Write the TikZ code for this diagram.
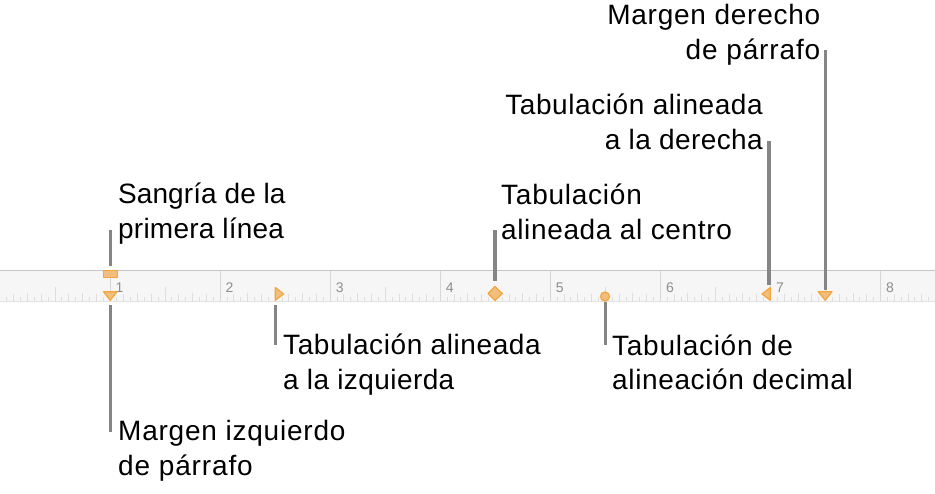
\documentclass[tikz,border=0pt]{standalone}
\usepackage{fontspec}
\setmainfont{Liberation Sans}
\newfontfamily\lblfont[LetterSpace=2.1]{Liberation Sans}
\newcommand{\lsp}[2]{{\addfontfeature{LetterSpace=#1}#2}}
\definecolor{rbg}{HTML}{F6F6F6}
\definecolor{rtop}{HTML}{C4C4C4}
\definecolor{rbot}{HTML}{E2E2E2}
\definecolor{tickc}{HTML}{DEDEDE}
\definecolor{numc}{HTML}{8E8E8E}
\definecolor{mfill}{HTML}{F2BE7E}
\definecolor{mline}{HTML}{F5A53C}
\definecolor{connc}{HTML}{858585}
\tikzset{
  x=1pt,y=-1pt,
  tick/.style={draw=tickc,line width=1pt},
  major/.style={draw=rtop!70!white,line width=1pt},
  num/.style={font=\fontsize{14}{14}\selectfont,text=numc,anchor=base,inner sep=0pt},
  mark shape/.style={fill=mfill,draw=mline,line width=1.2pt,line join=round},
  conn/.style={draw=connc,line width=3.2pt},
  lbl/.style={font=\lblfont\fontsize{28}{35}\selectfont,text=black,inner sep=0pt},
  lblL/.style={lbl,align=left,anchor=base west},
  lblR/.style={lbl,align=right,anchor=base east},
}
\begin{document}
\begin{tikzpicture}
\useasboundingbox (0,0) rectangle (935,494);
% ruler
\fill[rbg] (0,270.5) rectangle (935,301);
\foreach \i in {1,...,136}{
  \pgfmathsetmacro{\tx}{\i*110.07/16}
  \pgfmathtruncatemacro{\ma}{mod(\i,16)}
  \pgfmathtruncatemacro{\mb}{mod(\i,8)}
  \pgfmathtruncatemacro{\mc}{mod(\i,4)}
  \pgfmathtruncatemacro{\md}{mod(\i,2)}
  \ifnum\ma=0
    \draw[major] (\tx,270.5) -- (\tx,301);
  \else\ifnum\mb=0
    \draw[tick] (\tx,287) -- (\tx,301);
  \else\ifnum\mc=0
    \draw[tick] (\tx,293.5) -- (\tx,301);
  \else\ifnum\md=0
    \draw[tick] (\tx,294.5) -- (\tx,301);
  \else
    \draw[tick] (\tx,297.5) -- (\tx,301);
  \fi\fi\fi\fi
}
\draw[draw=rtop,line width=1.4pt] (0,270.5) -- (935,270.5);
\draw[draw=rbot,line width=1.2pt] (0,301.5) -- (935,301.5);
\foreach \k in {1,...,8}{
  \node[num] (n\k) at ({\k*110.07+9.5},293) {\k};
}
% markers
\path[mark shape] (103.3,270.8) rectangle (117.7,277.3);
\path[mark shape] (103.5,291.7) -- (117,291.7) -- (110.2,300.3) -- cycle;
\path[mark shape] (275.3,287.5) -- (275.3,300.3) -- (283.7,294) -- cycle;
\path[mark shape] (495,286.5) -- (502.3,293.6) -- (495,300.5) -- (488,293.6) -- cycle;
\path[mark shape] (605,296.5) circle (4.5);
\path[mark shape] (770.3,287.5) -- (770.3,300.3) -- (762,294) -- cycle;
\path[mark shape] (818.2,291.7) -- (832,291.7) -- (825.2,300.3) -- cycle;
% connector ends
\coordinate (cS) at (110.5,230);
\coordinate (cSb) at (110.5,266);
\coordinate (cA) at (110.5,305);
\coordinate (cAb) at (110.5,432);
\coordinate (cB) at (275.7,305);
\coordinate (cBb) at (275.7,345.5);
\coordinate (cC) at (495,230.5);
\coordinate (cCb) at (495,281);
\coordinate (cD) at (605.3,302);
\coordinate (cDb) at (605.3,345.5);
\coordinate (cE) at (769,141.5);
\coordinate (cEb) at (769,285);
\coordinate (cF) at (825.8,50.5);
\coordinate (cFb) at (825.8,290);
\draw[conn] (cS) -- (cSb);
\draw[conn] (cA) -- (cAb);
\draw[conn] (cB) -- (cBb);
\draw[conn] (cC) -- (cCb);
\draw[conn] (cD) -- (cDb);
\draw[conn] (cE) -- (cEb);
\draw[conn] (cF) -- (cFb);
% labels
\node[lblL] (tS) at (118,239) {\lsp{0.3}{Sangría de la}\\\lsp{0.8}{primera línea}};
\node[lblL] (tA) at (118,475.5) {\lsp{2.8}{Margen izquierdo}\\\lsp{3.1}{de párrafo}};
\node[lblL] (tB) at (283,389.5) {Tabulación alineada\\\lsp{1.5}{a la izquierda}};
\node[lblL] (tC) at (501,239.5) {\lsp{2.7}{Tabulación}\\\lsp{2.3}{alineada al centro}};
\node[lblL] (tD) at (612,390) {\lsp{2.6}{Tabulación de}\\\lsp{2.3}{alineación decimal}};
\node[lblR] (tE) at (763,150) {Tabulación alineada\\\lsp{1.5}{a la derecha}};
\node[lblR] (tF) at (820.5,59.5) {\lsp{2.7}{Margen derecho}\\\lsp{3.1}{de párrafo}};
\end{tikzpicture}
\end{document}
